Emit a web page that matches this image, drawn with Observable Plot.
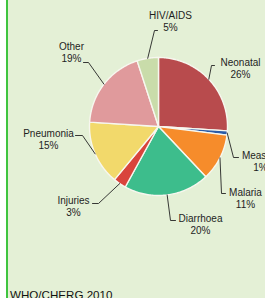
<!DOCTYPE html>
<html><head><meta charset="utf-8">
<script src="https://cdn.jsdelivr.net/npm/d3@7"></script>
<script src="https://cdn.jsdelivr.net/npm/@observablehq/plot@0.6"></script>
<style>
html,body{margin:0;padding:0;}
body{width:265px;height:298px;overflow:hidden;position:relative;background:linear-gradient(to right,#fff 0,#fff 6px,#3fc43f 6px,#3fc43f 8px,#e4f0d6 8px);font-family:"Liberation Sans",Arial,sans-serif;}
#chart{position:absolute;left:0;top:0;}
#cap{position:absolute;left:10px;top:289px;font-size:11.6px;line-height:11px;color:#111;white-space:nowrap;}
</style></head><body>
<div id="chart"></div><div id="cap"></div>
<script>
const categories = ["Neonatal","Measles","Malaria","Diarrhoea","Injuries","Pneumonia","Other","HIV/AIDS"];
const values = [26, 1, 11, 20, 3, 15, 19, 5];
const colors = ["#b84b4d","#2b5ca8","#f68c2b","#3dbd8c","#d9443c","#f2d96b","#e09a9c","#c9dcaa"];
const captionText = "WHO/CHERG 2010";

// ---- layout (pixels) ----
const W = 265, H = 298, CX = 158, CY = 126, R = 69;
const labelLayout = {
  "Neonatal":  {elbow:[211,65],  end:[214,65],  text:[240,77]},
  "Measles":   {elbow:[233,157], end:[238,157], text:[260,170]},
  "Malaria":   {elbow:[221,193], end:[225,193], text:[245,207]},
  "Diarrhoea": {elbow:[170,220], end:[175,220], text:[200,233]},
  "Injuries":  {elbow:[98,203],  end:[92,203],  text:[73,215]},
  "Pneumonia": {elbow:[82,135],  end:[75,135],  text:[48,148]},
  "Other":     {elbow:[88,62],   end:[83,62],   text:[71,61]},
  "HIV/AIDS":  {elbow:[154,30],  end:[157,30],  text:[170,30]}
};
const toX = px => (px - CX) / R;
const toY = py => (CY - py) / R;

// ---- slices from data ----
const total = d3.sum(values);
let cum = 0;
const slices = categories.map((c, i) => {
  const a0 = cum / total * 2 * Math.PI; cum += values[i];
  const a1 = cum / total * 2 * Math.PI;
  return {c, i, a0, a1, mid: (a0 + a1) / 2};
});
const polyPts = slices.flatMap(s => {
  const n = Math.max(2, Math.ceil((s.a1 - s.a0) / (Math.PI / 180)));
  const pts = [{c: s.c, x: 0, y: 0}];
  for (let k = 0; k <= n; k++) {
    const a = s.a0 + (s.a1 - s.a0) * k / n;
    pts.push({c: s.c, x: Math.sin(a), y: Math.cos(a)});
  }
  pts.push({c: s.c, x: 0, y: 0});
  return pts;
});
const leaderPts = slices.flatMap(s => {
  const L = labelLayout[s.c];
  return [
    {c: s.c, x: Math.sin(s.mid), y: Math.cos(s.mid)},
    {c: s.c, x: toX(L.elbow[0]), y: toY(L.elbow[1])},
    {c: s.c, x: toX(L.end[0]), y: toY(L.end[1])}
  ];
});
const labels = slices.map(s => {
  const L = labelLayout[s.c];
  return {x: toX(L.text[0]), y: toY(L.text[1]), text: `${s.c}\n${values[s.i]}%`};
});

const chart = Plot.plot({
  width: W, height: H, margin: 0,
  x: {domain: [toX(0), toX(W)], axis: null},
  y: {domain: [toY(H), toY(0)], axis: null},
  color: {domain: categories, range: colors},
  style: {background: "transparent", fontFamily: "'Liberation Sans', Arial, sans-serif", overflow: "hidden"},
  marks: [
    Plot.line(polyPts, {x: "x", y: "y", z: "c", fill: "c", stroke: "#f7f7ef", strokeWidth: 1.4, strokeLinejoin: "round"}),
    Plot.line(leaderPts, {x: "x", y: "y", z: "c", stroke: "#222", strokeWidth: 0.9}),
    Plot.text(labels, {x: "x", y: "y", text: "text", textAnchor: "middle", lineAnchor: "bottom", lineHeight: 1.18, fontSize: 10, fill: "#1e1e1e"})
  ]
});
document.getElementById("chart").appendChild(chart);
document.getElementById("cap").textContent = captionText;
</script>
</body></html>
